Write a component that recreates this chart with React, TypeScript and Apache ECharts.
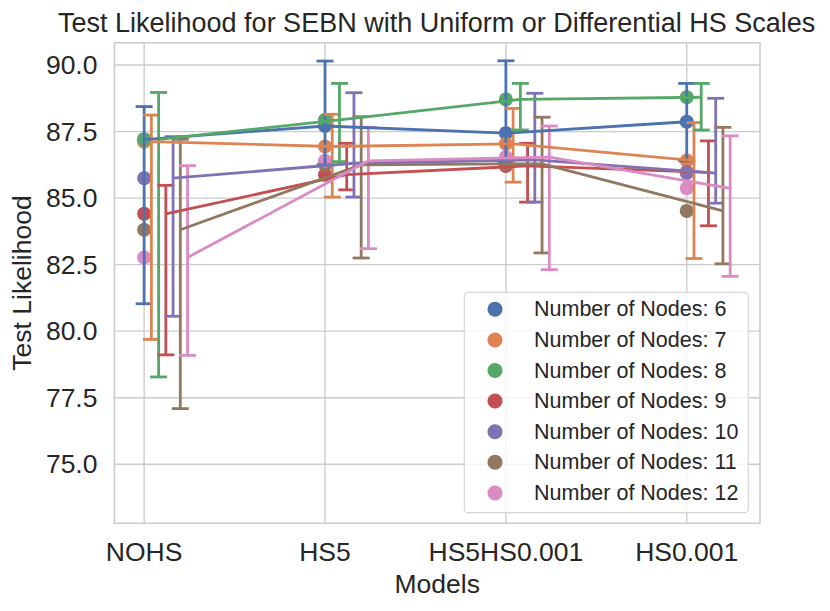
import React, { useEffect, useRef } from "react";
import * as echarts from "echarts";

const categories = ["NOHS", "HS5", "HS5HS0.001", "HS0.001"];
const seriesNames = [
  "Number of Nodes: 6",
  "Number of Nodes: 7",
  "Number of Nodes: 8",
  "Number of Nodes: 9",
  "Number of Nodes: 10",
  "Number of Nodes: 11",
  "Number of Nodes: 12",
];
const colors = ["#4C72B0", "#DD8452", "#55A868", "#C44E52", "#8172B3", "#937860", "#DA8BC3"];

const mean6 = [87.2, 87.71, 87.44, 87.87];
const mean7 = [87.12, 86.94, 87.04, 86.41];
const mean8 = [87.21, 87.94, 88.71, 88.79];
const mean9 = [84.41, 85.88, 86.21, 85.97];
const mean10 = [85.75, 86.31, 86.44, 85.94];
const mean11 = [83.81, 86.25, 86.29, 84.52];
const mean12 = [82.77, 86.4, 86.54, 85.37];

const low6 = [81.03, 86.25, 86.37, 86.4];
const low7 = [79.69, 85.04, 85.6, 82.73];
const low8 = [78.28, 86.37, 87.56, 87.56];
const low9 = [79.11, 85.31, 84.85, 83.96];
const low10 = [80.56, 85.04, 84.85, 84.81];
const low11 = [77.09, 82.75, 82.94, 82.53];
const low12 = [79.09, 83.1, 82.31, 82.06];

const high6 = [88.44, 90.15, 90.16, 89.31];
const high7 = [88.12, 88.15, 88.37, 87.84];
const high8 = [88.97, 89.31, 89.31, 89.31];
const high9 = [85.48, 87.06, 87.06, 87.15];
const high10 = [87.31, 88.96, 88.94, 88.75];
const high11 = [87.21, 88.06, 88.04, 87.66];
const high12 = [86.22, 87.66, 87.71, 87.34];

const yTicks = [75, 77.5, 80, 82.5, 85, 87.5, 90];
const xTicks = [0, 1, 2, 3];

const means = [mean6, mean7, mean8, mean9, mean10, mean11, mean12];
const lows = [low6, low7, low8, low9, low10, low11, low12];
const highs = [high6, high7, high8, high9, high10, high11, high12];

const DODGE = 0.04;
const FONT = "'Liberation Sans', Arial, sans-serif";
const TEXT = "#262626";
const GRIDC = "#cccccc";

export default function App() {
  const ref = useRef<HTMLDivElement>(null);
  useEffect(() => {
    if (!ref.current) return;
    const chart = echarts.init(ref.current, null, { renderer: "svg" });

    const gridSeries: any[] = [
      {
        type: "custom",
        name: "vgrid",
        silent: true,
        z: 1,
        data: xTicks.map((v) => [v, 80]),
        encode: { x: 0, y: 1 },
        renderItem: (params: any, api: any) => {
          const cs = params.coordSys;
          const x = api.coord([api.value(0), api.value(1)])[0];
          return {
            type: "line",
            shape: { x1: x, y1: cs.y, x2: x, y2: cs.y + cs.height },
            style: { stroke: GRIDC, lineWidth: 1.4 },
          };
        },
      },
      {
        type: "custom",
        name: "hgrid",
        silent: true,
        z: 1,
        data: yTicks.map((v) => [0, v]),
        encode: { x: 0, y: 1 },
        renderItem: (params: any, api: any) => {
          const cs = params.coordSys;
          const y = api.coord([api.value(0), api.value(1)])[1];
          return {
            type: "line",
            shape: { x1: cs.x, y1: y, x2: cs.x + cs.width, y2: y },
            style: { stroke: GRIDC, lineWidth: 1.4 },
          };
        },
      },
    ];

    const scatterSeries = seriesNames.map((name, k) => ({
      type: "scatter",
      name,
      z: 2,
      symbolSize: 14,
      itemStyle: { color: colors[k], opacity: 1 },
      data: categories.map((_, i) => [i, means[k][i]]),
    }));

    const barLineSeries: any[] = [];
    seriesNames.forEach((name, k) => {
      barLineSeries.push({
        type: "custom",
        name: name + " ci",
        z: 3,
        data: categories.map((_, i) => [i + k * DODGE, lows[k][i], highs[k][i]]),
        encode: { x: 0, y: [1, 2] },
        renderItem: (params: any, api: any) => {
          const x = api.value(0);
          const pTop = api.coord([x, api.value(2)]);
          const pBot = api.coord([x, api.value(1)]);
          const hw = 8.5;
          const st = { stroke: colors[k], lineWidth: 2.8 };
          return {
            type: "group",
            children: [
              { type: "line", shape: { x1: pTop[0], y1: pTop[1], x2: pBot[0], y2: pBot[1] }, style: st },
              { type: "line", shape: { x1: pTop[0] - hw, y1: pTop[1], x2: pTop[0] + hw, y2: pTop[1] }, style: st },
              { type: "line", shape: { x1: pBot[0] - hw, y1: pBot[1], x2: pBot[0] + hw, y2: pBot[1] }, style: st },
            ],
          };
        },
      });
      barLineSeries.push({
        type: "line",
        name: name + " line",
        z: 3,
        showSymbol: false,
        symbol: "none",
        lineStyle: { color: colors[k], width: 2.8 },
        itemStyle: { color: colors[k] },
        data: categories.map((_, i) => [i + k * DODGE, means[k][i]]),
      });
    });

    chart.setOption({
      animation: false,
      backgroundColor: "#ffffff",
      textStyle: { fontFamily: FONT },
      title: {
        text: "Test Likelihood for SEBN with Uniform or Differential HS Scales",
        left: 58,
        top: 9,
        padding: 0,
        textStyle: { fontFamily: FONT, fontSize: 27, fontWeight: "normal", color: TEXT },
      },
      grid: {
        left: 114.3,
        top: 42.7,
        width: 645.7,
        height: 480.6,
        show: true,
        borderColor: GRIDC,
        borderWidth: 1.6,
        backgroundColor: "transparent",
        containLabel: false,
      },
      xAxis: {
        type: "value",
        min: -0.164,
        max: 3.405,
        name: "Models",
        nameLocation: "middle",
        nameGap: 46,
        nameTextStyle: { fontFamily: FONT, fontSize: 26.5, color: TEXT },
        axisLine: { show: false },
        axisTick: { show: false },
        splitLine: { show: false },
        axisLabel: {
          customValues: xTicks,
          formatter: (v: number) => categories[Math.round(v)] ?? "",
          fontFamily: FONT,
          fontSize: 26.5,
          color: TEXT,
          margin: 15,
        },
      },
      yAxis: {
        type: "value",
        min: 72.78,
        max: 90.84,
        name: "Test Likelihood",
        nameLocation: "middle",
        nameGap: 76,
        nameTextStyle: { fontFamily: FONT, fontSize: 26.5, color: TEXT },
        axisLine: { show: false },
        axisTick: { show: false },
        splitLine: { show: false },
        axisLabel: {
          customValues: yTicks,
          formatter: (v: number) => v.toFixed(1),
          fontFamily: FONT,
          fontSize: 26.5,
          color: TEXT,
          margin: 17,
        },
      },
      legend: {
        data: seriesNames.map((n) => ({ name: n, icon: "circle" })),
        orient: "vertical",
        left: 487.5,
        top: 297.3,
        padding: 0,
        itemWidth: 15,
        itemHeight: 15,
        itemGap: 6.6,
        z: 5,
        selectedMode: false,
        textStyle: {
          fontFamily: FONT,
          fontSize: 21.5,
          color: TEXT,
          lineHeight: 24,
          padding: [0, 0, 0, 26.5],
        },
      },
      graphic: [
        {
          type: "rect",
          z: 4,
          shape: { x: 464.3, y: 292.3, width: 284, height: 220.4, r: 4 },
          style: { fill: "rgba(255,255,255,0.8)", stroke: "#d6d6d6", lineWidth: 1.2 },
        },
      ],
      series: [...gridSeries, ...scatterSeries, ...barLineSeries],
    });

    return () => chart.dispose();
  }, []);

  return (
    <div
      ref={ref}
      style={{ position: "fixed", left: 0, top: 0, width: 830, height: 611 }}
    />
  );
}
